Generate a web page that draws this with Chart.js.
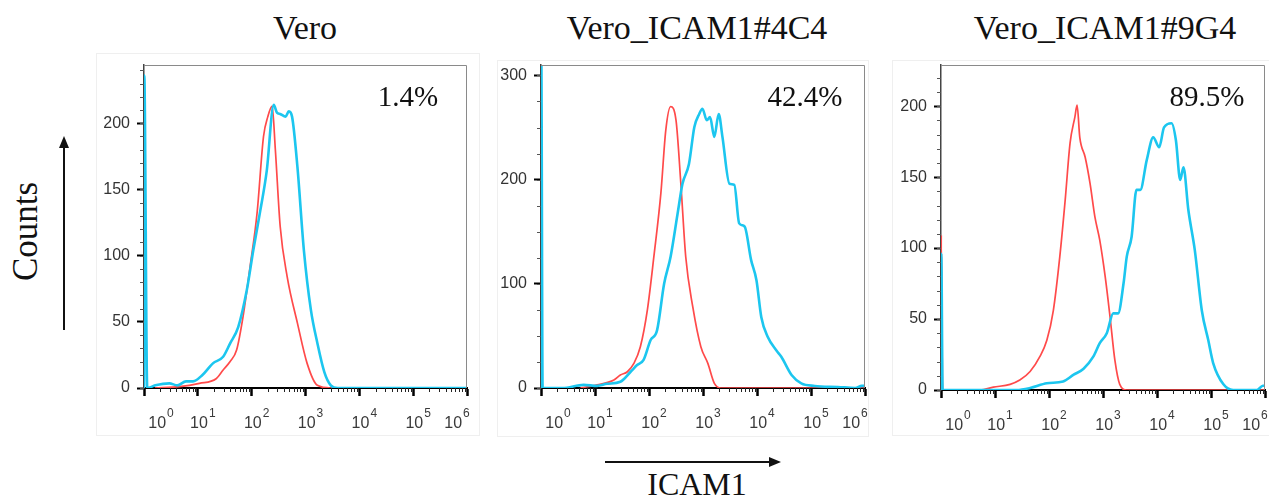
<!DOCTYPE html>
<html>
<head>
<meta charset="utf-8">
<script src="https://cdn.jsdelivr.net/npm/chart.js@4.4.1/dist/chart.umd.min.js"></script>
<style>
  body { margin: 0; background: #fff; width: 1269px; height: 503px; position: relative; overflow: hidden; }
  .panel { position: absolute; }
  .frame { position: absolute; border: 1px solid #efefef; }
  .serif { position: absolute; font-family: "Liberation Serif", serif; color: #111; white-space: nowrap; line-height: 1; }
  .title { font-size: 34px; width: 400px; text-align: center; }
  .pct { font-size: 29px; width: 200px; text-align: center; }
</style>
</head>
<body>

<div class="frame" style="left:96px;top:53px;width:382px;height:381px"></div>
<div class="frame" style="left:497px;top:60px;width:370px;height:375px"></div>
<div class="frame" style="left:892px;top:60px;width:380px;height:374px"></div>

<div class="panel" style="left:89px;top:55px;width:382px;height:378px"><canvas id="chart1"></canvas></div>
<div class="panel" style="left:486px;top:55px;width:383px;height:378px"><canvas id="chart2"></canvas></div>
<div class="panel" style="left:886px;top:55px;width:383px;height:380px"><canvas id="chart3"></canvas></div>

<div class="serif title" style="left:105px;top:11px">Vero</div>
<div class="serif title" style="left:497px;top:11px">Vero_ICAM1#4C4</div>
<div class="serif title" style="left:905px;top:11px">Vero_ICAM1#9G4</div>

<div class="serif pct" style="left:308px;top:82px">1.4%</div>
<div class="serif pct" style="left:705px;top:82px">42.4%</div>
<div class="serif pct" style="left:1107px;top:82px">89.5%</div>

<div class="serif" style="font-size:35px;left:-25px;top:214px;width:100px;text-align:center;transform:rotate(-90deg)">Counts</div>
<div class="serif" style="font-size:32px;left:597px;top:468px;width:200px;text-align:center">ICAM1</div>

<svg style="position:absolute;left:0;top:0" width="1269" height="503">
  <line x1="64" y1="330" x2="64" y2="146" stroke="#111" stroke-width="2"/>
  <polygon points="64,136 59,148 69,148" fill="#111"/>
  <line x1="605" y1="462" x2="771" y2="462" stroke="#111" stroke-width="2"/>
  <polygon points="781,462 769,457 769,467" fill="#111"/>
</svg>

<script>
// x values are log10 of ICAM1 intensity (0 = 10^0 ... 6 = 10^6)
const decades = [0, 1, 2, 3, 4, 5, 6];
const veroYTicks = [0, 50, 100, 150, 200];
const c4YTicks = [0, 100, 200, 300];
const g4YTicks = [0, 50, 100, 150, 200];

// Vero
const veroRedX  = [0.2, 0.66, 1.03, 1.34, 1.47, 1.6, 1.72, 1.84, 1.97, 2.1, 2.22, 2.3, 2.38, 2.44, 2.53, 2.66, 2.85, 3.03, 3.22, 3.47, 6];
const veroRedY  = [0, 1, 3.5, 7, 13.6, 20, 28.7, 54, 91.5, 132, 190, 205, 213, 180, 122, 84, 49, 18.6, 2, 0, 0];
const veroCyanX = [0, 0.005, 0.06, 0.21, 0.47, 0.62, 0.78, 0.91, 1.09, 1.28, 1.47, 1.6, 1.75, 1.91, 2.03, 2.16, 2.28, 2.41, 2.47, 2.53, 2.63, 2.69, 2.75, 2.85, 2.97, 3.1, 3.22, 3.35, 3.47, 3.6, 6];
const veroCyanY = [0, 236, 0, 2, 3.5, 2, 5, 5, 10, 18.6, 23.6, 33.7, 46, 74, 104, 134, 164, 214, 208, 207, 205, 209, 205, 167, 104, 59, 34, 12, 2, 0, 0];

// Vero_ICAM1#4C4
const c4RedX  = [0.73, 1.04, 1.35, 1.47, 1.6, 1.72, 1.84, 1.97, 2.09, 2.22, 2.31, 2.4, 2.5, 2.59, 2.68, 2.81, 2.96, 3.09, 3.21, 3.33, 6];
const c4RedY  = [0, 3, 7.7, 12.5, 15.6, 23.6, 39.6, 75, 126, 187, 247, 270, 257, 196, 126, 78, 39.6, 23.6, 4.5, 0, 0];
const c4CyanX = [0, 0.005, 0.03, 0.4, 0.79, 1.04, 1.22, 1.47, 1.66, 1.78, 1.9, 2.03, 2.15, 2.28, 2.4, 2.53, 2.62, 2.74, 2.84, 2.93, 2.99, 3.07, 3.13, 3.21, 3.29, 3.36, 3.49, 3.58, 3.67, 3.77, 3.89, 3.99, 4.08, 4.2, 4.36, 4.45, 4.64, 4.82, 5.07, 5.5, 5.82, 5.94, 6];
const c4CyanY = [0, 320, 0, 0, 3, 2, 4, 6, 15.6, 22, 27, 46, 55.6, 100, 126, 167.5, 196, 215, 250.5, 263, 268, 257, 260, 241, 263, 241, 196, 195, 158, 155, 123, 103.5, 68, 49, 36, 30, 12.5, 4.5, 2, 1, 0, 2, 2];

// Vero_ICAM1#9G4
const g4RedX  = [0, 0.005, 0.03, 0.72, 0.97, 1.28, 1.46, 1.65, 1.83, 1.96, 2.08, 2.2, 2.3, 2.39, 2.48, 2.52, 2.57, 2.67, 2.76, 2.85, 2.94, 3.04, 3.13, 3.22, 3.31, 3.44, 6];
const g4RedY  = [0, 109, 0, 0, 2, 4, 7, 13, 23.5, 35, 56, 94, 134, 174, 192.5, 200.7, 178, 164, 145.6, 122, 105.6, 80, 51.6, 21, 4, 0, 0];
const g4CyanX = [0, 0.005, 0.03, 1.4, 1.65, 1.96, 2.26, 2.45, 2.64, 2.82, 2.94, 3.07, 3.19, 3.28, 3.38, 3.44, 3.53, 3.62, 3.69, 3.81, 3.93, 4.04, 4.13, 4.27, 4.35, 4.43, 4.49, 4.58, 4.7, 4.83, 4.95, 5.04, 5.23, 5.41, 5.85, 5.96, 6];
const g4CyanY = [0, 96, 0, 0, 1.4, 4.7, 6, 10.6, 15, 23.5, 33, 40, 54, 54, 75, 94, 108, 141, 141, 162, 178, 171, 185, 188, 176, 148, 157, 127, 98.6, 56, 35, 19, 4, 0, 0, 3, 3];

const RED = "#ff4a4a";
const CYAN = "#1cc6ef";
const AXIS_FONT = "'Liberation Sans', Arial, sans-serif";

function pts(xs, ys) {
    return xs.map(function (x, i) { return { x: x, y: ys[i] }; });
}

// gray frame, minor ticks and 10^n labels
var histAxes = {
    id: "histAxes",
    afterDraw: function (chart, args, opts) {
        var ctx = chart.ctx;
        var a = chart.chartArea;
        var xs = chart.scales.x;
        var ys = chart.scales.y;
        ctx.save();

        ctx.strokeStyle = "#8a8a8a";
        ctx.lineWidth = 1;
        ctx.beginPath();
        ctx.moveTo(a.left, a.top + 0.5);
        ctx.lineTo(a.right - 0.5, a.top + 0.5);
        ctx.lineTo(a.right - 0.5, a.bottom);
        ctx.stroke();

        // minor y ticks
        ctx.strokeStyle = "#555";
        ctx.beginPath();
        for (var v = 0; v <= ys.max; v += opts.minorY) {
            var py = Math.round(ys.getPixelForValue(v)) + 0.5;
            ctx.moveTo(a.left - 4, py);
            ctx.lineTo(a.left, py);
        }
        ctx.stroke();

        // minor x ticks (log spaced)
        ctx.strokeStyle = "#222";
        ctx.beginPath();
        for (var d = 0; d < 6; d++) {
            for (var k = 2; k < 10; k++) {
                var px = Math.round(xs.getPixelForValue(d + Math.log10(k))) + 0.5;
                ctx.moveTo(px, a.bottom);
                ctx.lineTo(px, a.bottom + 4);
            }
        }
        ctx.stroke();

        // 10^n labels
        ctx.fillStyle = "#3a3a3a";
        ctx.textBaseline = "alphabetic";
        ctx.textAlign = "left";
        xs.ticks.forEach(function (t, i) {
            var px = xs.getPixelForValue(t.value);
            var off = i === 0 ? 17 : (i === xs.ticks.length - 1 ? -10 : 5);
            ctx.font = "16px " + AXIS_FONT;
            var w1 = ctx.measureText("10").width;
            ctx.font = "12px " + AXIS_FONT;
            var w2 = ctx.measureText(String(decades[i])).width;
            var x0 = px + off - (w1 + w2 + 1) / 2;
            ctx.font = "16px " + AXIS_FONT;
            ctx.fillText("10", x0, a.bottom + 40);
            ctx.font = "12px " + AXIS_FONT;
            ctx.fillText(String(decades[i]), x0 + w1 + 1, a.bottom + 29);
        });
        ctx.restore();
    },
};

function noPad(s) {
    s.paddingTop = 0;
    s.paddingBottom = 0;
    s.paddingLeft = 0;
    s.paddingRight = 0;
}

function makeChart(id, redX, redY, cyanX, cyanY, yMax, yTicks, minorY) {
    var ctx = document.getElementById(id).getContext("2d");
    return new Chart(ctx, {
        type: "line",
        data: {
            datasets: [
                {
                    data: pts(cyanX, cyanY),
                    borderColor: CYAN,
                    borderWidth: 2.6,
                    pointRadius: 0,
                    cubicInterpolationMode: "monotone",
                },
                {
                    data: pts(redX, redY),
                    borderColor: RED,
                    borderWidth: 1.7,
                    pointRadius: 0,
                    cubicInterpolationMode: "monotone",
                },
            ],
        },
        options: {
            responsive: true,
            maintainAspectRatio: false,
            animation: false,
            layout: { padding: { top: 10, right: 4, left: 0, bottom: 0 } },
            plugins: {
                legend: { display: false },
                tooltip: { enabled: false },
                histAxes: { minorY: minorY },
            },
            scales: {
                x: {
                    type: "linear",
                    min: 0,
                    max: 6,
                    afterBuildTicks: function (s) {
                        s.ticks = decades.map(function (d) { return { value: d }; });
                    },
                    ticks: { display: false },
                    grid: { drawOnChartArea: false, tickLength: 8, tickWidth: 2.5, tickColor: "#000" },
                    border: { color: "#000", width: 2 },
                    afterFit: function (s) { s.height = 45; noPad(s); },
                },
                y: {
                    min: 0,
                    max: yMax,
                    afterBuildTicks: function (s) {
                        s.ticks = yTicks.map(function (v) { return { value: v }; });
                    },
                    ticks: {
                        padding: 7,
                        color: "#333",
                        font: { family: AXIS_FONT, size: 16 },
                    },
                    grid: { drawOnChartArea: false, tickLength: 7, tickWidth: 2, tickColor: "#000" },
                    border: { color: "#444", width: 1.5 },
                    afterFit: function (s) { s.width = 55; noPad(s); },
                },
            },
        },
        plugins: [histAxes],
    });
}

makeChart("chart1", veroRedX, veroRedY, veroCyanX, veroCyanY, 244, veroYTicks, 10);
makeChart("chart2", c4RedX, c4RedY, c4CyanX, c4CyanY, 310, c4YTicks, 25);
makeChart("chart3", g4RedX, g4RedY, g4CyanX, g4CyanY, 229, g4YTicks, 10);
</script>
</body>
</html>
